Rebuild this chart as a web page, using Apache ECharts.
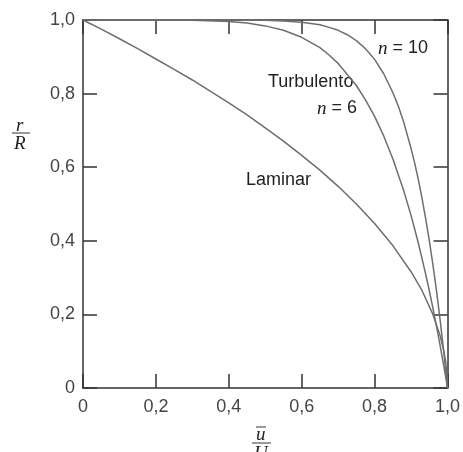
<!DOCTYPE html>
<html>
<head>
<meta charset="utf-8">
<title>Perfil de velocidade</title>
<script src="https://cdn.jsdelivr.net/npm/echarts@6/dist/echarts.min.js"></script>
<style>
  html, body { margin: 0; padding: 0; background: #fff; }
</style>
</head>
<body>
<div id="main" style="width:463px;height:452px;"></div>
<script>
// tick labels (decimal comma as in the original)
var xTickLabels = ['0', '0,2', '0,4', '0,6', '0,8', '1,0'];
var yTickLabels = ['0', '0,2', '0,4', '0,6', '0,8', '1,0'];

// laminar profile, [u/U, r/R]
var laminar = [
  [0, 1], [0.05, 0.975], [0.1, 0.949], [0.15, 0.922], [0.2, 0.894],
  [0.25, 0.866], [0.3, 0.837], [0.35, 0.806], [0.4, 0.775], [0.45, 0.742],
  [0.5, 0.707], [0.55, 0.671], [0.6, 0.632], [0.65, 0.592], [0.7, 0.548],
  [0.75, 0.5], [0.8, 0.447], [0.85, 0.387], [0.9, 0.316], [0.93, 0.265],
  [0.96, 0.2], [0.98, 0.141], [0.99, 0.1], [0.995, 0.071], [0.999, 0.032], [1, 0]
];

// turbulent, n = 6
var turb6 = [
  [0, 1], [0.2, 1], [0.3, 0.999], [0.4, 0.996], [0.45, 0.992], [0.5, 0.984],
  [0.55, 0.972], [0.6, 0.953], [0.65, 0.925], [0.675, 0.905], [0.7, 0.882],
  [0.75, 0.822], [0.775, 0.783], [0.8, 0.738], [0.825, 0.685], [0.85, 0.623],
  [0.88, 0.536], [0.9, 0.469], [0.92, 0.394], [0.94, 0.31], [0.95, 0.265],
  [0.96, 0.217], [0.97, 0.167], [0.98, 0.114], [0.99, 0.059], [0.995, 0.03], [1, 0]
];

// turbulent, n = 10
var turb10 = [
  [0, 1], [0.3, 1], [0.5, 0.999], [0.55, 0.997], [0.6, 0.994], [0.65, 0.987],
  [0.675, 0.98], [0.7, 0.972], [0.725, 0.96], [0.75, 0.944], [0.775, 0.922],
  [0.8, 0.893], [0.825, 0.854], [0.85, 0.803], [0.865, 0.766], [0.88, 0.722],
  [0.9, 0.651], [0.91, 0.611], [0.92, 0.566], [0.93, 0.516], [0.94, 0.461],
  [0.95, 0.401], [0.96, 0.335], [0.97, 0.263], [0.98, 0.183], [0.99, 0.096],
  [0.995, 0.049], [1, 0]
];

var axisColor = '#333';
var curveColor = '#6e6e6e';
var sans = '"Liberation Sans", Arial, sans-serif';
var serif = '"Liberation Serif", "DejaVu Serif", serif';

function tickText(labels) {
  return function (v) { return labels[Math.round(v / 0.2)]; };
}

function makeAxis(pos, labels, showLabel) {
  return {
    type: 'value',
    position: pos,
    min: 0,
    max: 1,
    interval: 0.2,
    axisLine: { show: true, onZero: false, lineStyle: { color: axisColor, width: 1.5 } },
    axisTick: { show: true, inside: true, length: 14, lineStyle: { color: axisColor, width: 1.5 } },
    axisLabel: {
      show: showLabel,
      formatter: tickText(labels),
      fontFamily: sans,
      fontSize: 18,
      color: '#444',
      margin: pos === 'bottom' ? 10 : 8
    },
    splitLine: { show: false }
  };
}

function curve(name, data) {
  return {
    name: name,
    type: 'line',
    data: data,
    showSymbol: false,
    smooth: false,
    lineStyle: { color: curveColor, width: 1.5 }
  };
}

var myChart = echarts.init(document.getElementById('main'));

var option = {
  animation: false,
  backgroundColor: '#fff',
  grid: { left: 83, right: 13, top: 20, bottom: 64 },
  xAxis: [
    makeAxis('bottom', xTickLabels, true),
    makeAxis('top', xTickLabels, false)
  ],
  yAxis: [
    makeAxis('left', yTickLabels, true),
    makeAxis('right', yTickLabels, false)
  ],
  series: [
    curve('Laminar', laminar),
    curve('n = 6', turb6),
    curve('n = 10', turb10)
  ],
  graphic: [
    // y axis title r / R
    { type: 'text', left: 16, top: 116, style: { text: 'r', font: 'italic 19px ' + serif, fill: '#222' } },
    { type: 'line', shape: { x1: 12, y1: 133, x2: 30, y2: 133 }, style: { stroke: '#333', lineWidth: 1 } },
    { type: 'text', left: 14, top: 134, style: { text: 'R', font: 'italic 19px ' + serif, fill: '#222' } },
    // x axis title u-bar / U
    { type: 'line', shape: { x1: 256, y1: 427, x2: 266, y2: 427 }, style: { stroke: '#333', lineWidth: 1 } },
    { type: 'text', left: 256, top: 425, style: { text: 'u', font: 'italic 19px ' + serif, fill: '#222' } },
    { type: 'line', shape: { x1: 252, y1: 443, x2: 271, y2: 443 }, style: { stroke: '#333', lineWidth: 1 } },
    { type: 'text', left: 254, top: 444, style: { text: 'U', font: 'italic 19px ' + serif, fill: '#222' } },
    // curve labels
    { type: 'text', left: 246, top: 171, style: { text: 'Laminar', font: '18px ' + sans, fill: '#222' } },
    { type: 'text', left: 268, top: 73, style: { text: 'Turbulento', font: '18px ' + sans, fill: '#222' } },
    {
      type: 'text', right: 106, top: 99,
      style: {
        text: '{n|n} = 6',
        font: '18px ' + sans,
        fill: '#222',
        rich: { n: { fontFamily: serif, fontStyle: 'italic', fontSize: 19, fill: '#222' } }
      }
    },
    {
      type: 'text', left: 378, top: 39,
      style: {
        text: '{n|n} = 10',
        font: '18px ' + sans,
        fill: '#222',
        rich: { n: { fontFamily: serif, fontStyle: 'italic', fontSize: 19, fill: '#222' } }
      }
    }
  ]
};

myChart.setOption(option);
</script>
</body>
</html>
